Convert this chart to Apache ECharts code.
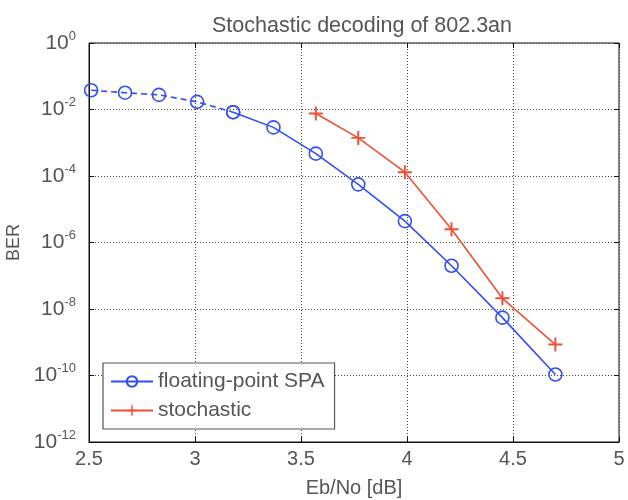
<!DOCTYPE html>
<html>
<head>
<meta charset="utf-8">
<script src="https://cdn.jsdelivr.net/npm/echarts@6/dist/echarts.min.js"></script>
<style>html,body{margin:0;padding:0;background:#fff}#c{width:628px;height:500px}</style>
</head>
<body>
<div id="c"></div>
<script>
var titleText = 'Stochastic decoding of 802.3an';
var xName = 'Eb/No [dB]';
var yName = 'BER';
var spaName = 'floating-point SPA';
var stoName = 'stochastic';
var spaX = [2.51, 2.67, 2.83, 3.01, 3.18, 3.37, 3.57, 3.77, 3.99, 4.21, 4.45, 4.70];
var spaY = [3.8e-2, 3.2e-2, 2.75e-2, 1.7e-2, 8.3e-3, 2.9e-3, 4.7e-4, 5.6e-5, 4.4e-6, 2.0e-7, 5.5e-9, 1.07e-10];
var stoX = [3.57, 3.77, 3.99, 4.21, 4.45, 4.70];
var stoY = [7.6e-3, 1.4e-3, 1.3e-4, 2.5e-6, 2.1e-8, 8.5e-10];
var dashedCount = 5;

function pairs(xs, ys) { return xs.map(function (x, i) { return [x, ys[i]]; }); }
var spaAll = pairs(spaX, spaY);
var spaDashed = spaAll.slice(0, dashedCount);
var spaSolid = spaAll.slice(dashedCount - 1);
var stoData = pairs(stoX, stoY);

var blue = '#3050f4';
var red = '#ee5036';
var txt = '#555';
var font = 'Liberation Sans';
var plus = 'path://M4.3,0h1.4v4.3h4.3v1.4h-4.3v4.3h-1.4v-4.3h-4.3v-1.4h4.3z';

var chart = echarts.init(document.getElementById('c'));
chart.setOption({
  animation: false,
  backgroundColor: '#fff',
  textStyle: { fontFamily: font },
  title: {
    text: titleText, left: 357, top: 10, textAlign: 'center',
    textStyle: { fontFamily: font, fontSize: 21.5, fontWeight: 'normal', color: txt }
  },
  grid: { left: 89, right: 9, top: 43, bottom: 58, show: true, borderColor: '#111', borderWidth: 1,
          containLabel: false, outerBoundsMode: 'none' },
  legend: {
    orient: 'vertical', left: 103, top: 363,
    data: [spaName, stoName],
    itemWidth: 42, itemHeight: 13, itemGap: 8,
    padding: [8, 10, 8, 7],
    borderColor: '#555', borderWidth: 1.2, backgroundColor: '#fff',
    textStyle: { fontFamily: font, fontSize: 21, color: txt }
  },
  xAxis: [{
    type: 'value', min: 2.5, max: 5, interval: 0.5,
    name: xName, nameLocation: 'middle', nameGap: 36,
    nameTextStyle: { fontFamily: font, fontSize: 20, color: txt },
    axisLine: { show: true, lineStyle: { color: '#111' } },
    axisTick: { show: true, inside: true, length: 5, lineStyle: { color: '#111' } },
    axisLabel: { fontFamily: font, fontSize: 20, color: txt, margin: 7 },
    splitLine: { show: true, lineStyle: { color: '#444', type: [1, 2], width: 1 } }
  }, {
    type: 'value', min: 2.5, max: 5, interval: 0.5, position: 'top',
    axisLine: { show: false }, axisLabel: { show: false },
    axisTick: { show: true, inside: true, length: 5, lineStyle: { color: '#111' } },
    splitLine: { show: false }
  }],
  yAxis: [{
    type: 'log', logBase: 10, min: 1e-12, max: 1, interval: 2,
    name: yName, nameLocation: 'middle', nameGap: 62, nameRotate: 90,
    nameTextStyle: { fontFamily: font, fontSize: 18, color: txt },
    axisLine: { show: true, lineStyle: { color: '#111' } },
    axisTick: { show: true, inside: true, length: 5, lineStyle: { color: '#111' } },
    axisLabel: {
      margin: 13, color: txt,
      formatter: function (v) {
        var e = Math.round(Math.log(v) / Math.LN10);
        return '{b|10}{s|' + e + '}';
      },
      rich: {
        b: { fontFamily: font, fontSize: 21, color: txt },
        s: { fontFamily: font, fontSize: 13, color: txt, padding: [0, 0, 14, 0] }
      }
    },
    splitLine: { show: true, lineStyle: { color: '#444', type: [1, 2], width: 1 } }
  }, {
    type: 'log', logBase: 10, min: 1e-12, max: 1, interval: 2, position: 'right',
    axisLine: { show: false }, axisLabel: { show: false },
    axisTick: { show: true, inside: true, length: 5, lineStyle: { color: '#111' } },
    splitLine: { show: false }
  }],
  series: [{
    name: spaName + ' (low SNR)', type: 'line', data: spaDashed,
    symbol: 'circle', symbolSize: 13,
    itemStyle: { color: 'transparent', borderColor: blue, borderWidth: 1.6 },
    lineStyle: { color: blue, width: 1.6, type: [6, 4] }
  }, {
    name: spaName, type: 'line', data: spaSolid,
    symbol: 'circle', symbolSize: 13,
    itemStyle: { color: 'transparent', borderColor: blue, borderWidth: 1.6 },
    lineStyle: { color: blue, width: 1.6 }
  }, {
    name: stoName, type: 'line', data: stoData,
    symbol: plus, symbolSize: 14,
    itemStyle: { color: red, borderWidth: 0 },
    lineStyle: { color: red, width: 1.6 }
  }]
});
</script>
</body>
</html>
